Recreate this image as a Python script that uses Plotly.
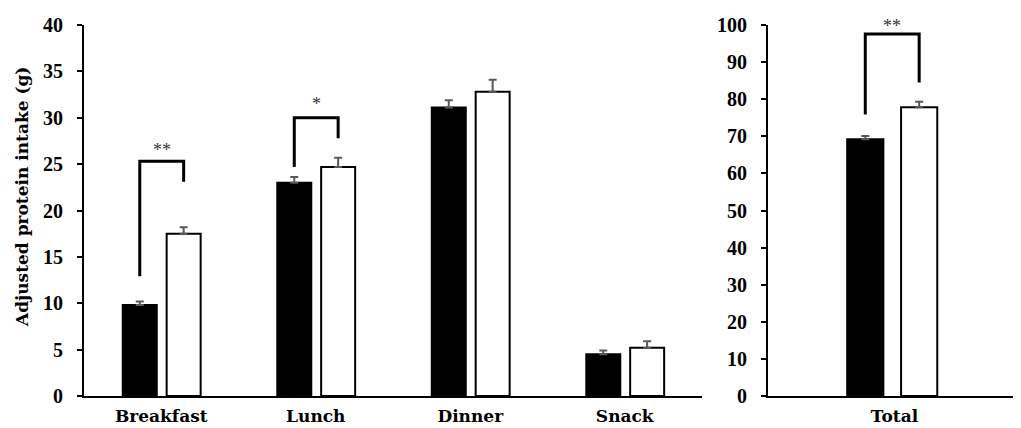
import plotly.graph_objects as go

# ---- data ----
meals = ["Breakfast", "Lunch", "Dinner", "Snack"]
group_a = [9.8, 23.0, 31.1, 4.5]      # black bars
group_a_err = [0.4, 0.6, 0.8, 0.4]
group_b = [17.5, 24.7, 32.8, 5.2]     # white bars
group_b_err = [0.7, 1.0, 1.3, 0.7]

total_cat = ["Total"]
total_a = [69.2]
total_a_err = [0.9]
total_b = [77.8]
total_b_err = [1.5]

y_ticks_left = [0, 5, 10, 15, 20, 25, 30, 35, 40]
y_ticks_right = [0, 10, 20, 30, 40, 50, 60, 70, 80, 90, 100]

# significance brackets: (category index, left foot, top, right foot, label, label y)
sig_left = [(0, 12.9, 25.3, 23.1, "**", 26.5), (1, 24.7, 30.0, 27.8, "*", 31.5)]
sig_right = [(0, 75.9, 97.6, 84.5, "**", 99.8)]

W, H = 1021, 428
OFF = 8  # page body margin offset
TICK_FONT = dict(family="Liberation Serif", size=20, color="black")
CAT_FONT = dict(family="DejaVu Serif", size=17, color="black")

# bar geometry (in category units)
lw, la_off, lb_off = 0.22, -0.249, 0.035
rw, ra_off, rb_off = 0.143, -0.187, 0.026

err_style = dict(type="data", symmetric=False, color="#595959", thickness=2, width=4)

fig = go.Figure()

fig.add_bar(x=meals, y=group_a, width=lw, offset=la_off,
            marker=dict(color="black", line=dict(color="black", width=2)),
            error_y=dict(array=group_a_err, arrayminus=[0] * len(meals), **err_style),
            xaxis="x", yaxis="y", showlegend=False)
fig.add_bar(x=meals, y=group_b, width=lw, offset=lb_off,
            marker=dict(color="white", line=dict(color="black", width=2)),
            error_y=dict(array=group_b_err, arrayminus=[0] * len(meals), **err_style),
            xaxis="x", yaxis="y", showlegend=False)
fig.add_bar(x=total_cat, y=total_a, width=rw, offset=ra_off,
            marker=dict(color="black", line=dict(color="black", width=2)),
            error_y=dict(array=total_a_err, arrayminus=[0], **err_style),
            xaxis="x2", yaxis="y2", showlegend=False)
fig.add_bar(x=total_cat, y=total_b, width=rw, offset=rb_off,
            marker=dict(color="white", line=dict(color="black", width=2)),
            error_y=dict(array=total_b_err, arrayminus=[0], **err_style),
            xaxis="x2", yaxis="y2", showlegend=False)

shapes = []
annotations = []


def add_bracket(items, xr, yr, w, a_off, b_off):
    for idx, yl, yt, yrr, label, ly in items:
        xa = idx + a_off + w / 2
        xb = idx + b_off + w / 2
        path = f"M {xa} {yl} L {xa} {yt} L {xb} {yt} L {xb} {yrr}"
        shapes.append(dict(type="path", path=path, xref=xr, yref=yr,
                           line=dict(color="black", width=3)))
        annotations.append(dict(x=(xa + xb) / 2, y=ly, xref=xr, yref=yr, text=label,
                                showarrow=False, xanchor="center", yanchor="middle",
                                font=dict(family="Liberation Serif", size=18, color="#333333")))


add_bracket(sig_left, "x", "y", lw, la_off, lb_off)
add_bracket(sig_right, "x2", "y2", rw, ra_off, rb_off)

annotations.append(dict(x=(22 - OFF) / W, y=(H - (197 - OFF)) / H, xref="paper", yref="paper",
                        text="<b>Adjusted protein intake (g)</b>", textangle=-90,
                        xanchor="center", yanchor="middle",
                        showarrow=False, font=CAT_FONT))

ydom = [(H - (396 - OFF)) / H, (H - (25 - OFF)) / H]

fig.update_layout(
    width=W, height=H,
    margin=dict(l=0, r=0, t=0, b=0, autoexpand=False),
    paper_bgcolor="white", plot_bgcolor="white",
    barmode="overlay",
    shapes=shapes, annotations=annotations,
    xaxis=dict(domain=[(84 - OFF) / W, (702 - OFF) / W], range=[-0.5, 3.5], type="category",
               showline=True, linecolor="black", linewidth=2, ticks="",
               tickfont=CAT_FONT, ticklabelstandoff=4, showgrid=False,
               tickvals=meals, ticktext=[f"<b>{m}</b>" for m in meals]),
    yaxis=dict(domain=ydom, range=[0, 40], tickvals=y_ticks_left,
               ticktext=[f"<b>{v}</b>" for v in y_ticks_left],
               showline=True, linecolor="black", linewidth=2,
               ticks="outside", ticklen=5, tickwidth=2, tickcolor="black",
               tickfont=TICK_FONT, ticklabelstandoff=10, showgrid=False, zeroline=False),
    xaxis2=dict(domain=[(768 - OFF) / W, (1021 - OFF) / W], range=[-0.5, 0.5], type="category",
                anchor="y2",
                showline=True, linecolor="black", linewidth=2, ticks="",
                tickfont=CAT_FONT, ticklabelstandoff=4, showgrid=False,
                tickvals=total_cat, ticktext=[f"<b>{c}</b>" for c in total_cat]),
    yaxis2=dict(domain=ydom, range=[0, 100], anchor="x2", tickvals=y_ticks_right,
                ticktext=[f"<b>{v}</b>" for v in y_ticks_right],
                showline=True, linecolor="black", linewidth=2,
                ticks="outside", ticklen=5, tickwidth=2, tickcolor="black",
                tickfont=TICK_FONT, ticklabelstandoff=10, showgrid=False, zeroline=False),
)

fig.write_html("out.html")
